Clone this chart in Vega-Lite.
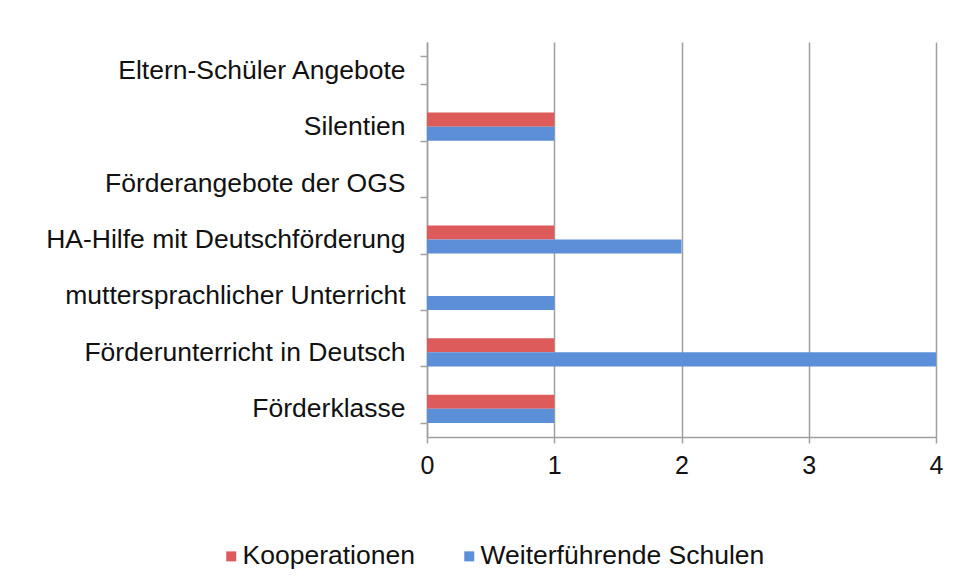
{
  "$schema": "https://vega.github.io/schema/vega-lite/v6.json",
  "width": 509,
  "height": 395,
  "autosize": {"type": "none"},
  "padding": {"left": 427, "top": 42, "right": 24, "bottom": 143},
  "background": "white",
  "config": {
    "font": "Liberation Sans",
    "view": {"stroke": null}
  },
  "data": {
    "values": [
      {"cat": "Eltern-Schüler Angebote", "series": "Kooperationen", "v": 0},
      {"cat": "Eltern-Schüler Angebote", "series": "Weiterführende Schulen", "v": 0},
      {"cat": "Silentien", "series": "Kooperationen", "v": 1},
      {"cat": "Silentien", "series": "Weiterführende Schulen", "v": 1},
      {"cat": "Förderangebote der OGS", "series": "Kooperationen", "v": 0},
      {"cat": "Förderangebote der OGS", "series": "Weiterführende Schulen", "v": 0},
      {"cat": "HA-Hilfe mit Deutschförderung", "series": "Kooperationen", "v": 1},
      {"cat": "HA-Hilfe mit Deutschförderung", "series": "Weiterführende Schulen", "v": 2},
      {"cat": "muttersprachlicher Unterricht", "series": "Kooperationen", "v": 0},
      {"cat": "muttersprachlicher Unterricht", "series": "Weiterführende Schulen", "v": 1},
      {"cat": "Förderunterricht in Deutsch", "series": "Kooperationen", "v": 1},
      {"cat": "Förderunterricht in Deutsch", "series": "Weiterführende Schulen", "v": 4},
      {"cat": "Förderklasse", "series": "Kooperationen", "v": 1},
      {"cat": "Förderklasse", "series": "Weiterführende Schulen", "v": 1}
    ]
  },
  "mark": {"type": "bar"},
  "encoding": {
    "y": {
      "field": "cat",
      "type": "nominal",
      "sort": null,
      "scale": {"paddingInner": 0.5, "paddingOuter": 0.25},
      "axis": {
        "title": null,
        "labelFontSize": 26.5,
        "labelColor": "#111111",
        "labelPadding": 15,
        "labelLimit": 420,
        "tickBand": "extent",
        "tickSize": 7,
        "tickColor": "#a0a0a0",
        "tickWidth": 1.5,
        "domainColor": "#a0a0a0",
        "domainWidth": 1.5,
        "grid": false
      }
    },
    "yOffset": {
      "field": "series",
      "type": "nominal",
      "sort": ["Kooperationen", "Weiterführende Schulen"]
    },
    "x": {
      "field": "v",
      "type": "quantitative",
      "scale": {"domain": [0, 4], "nice": false},
      "axis": {
        "title": null,
        "values": [0, 1, 2, 3, 4],
        "format": "d",
        "labelFontSize": 25,
        "labelFlush": false,
        "labelColor": "#111111",
        "labelPadding": 10,
        "tickSize": 6,
        "tickColor": "#a0a0a0",
        "tickWidth": 1.5,
        "domainColor": "#a0a0a0",
        "domainWidth": 1.5,
        "gridColor": "#a0a0a0",
        "gridWidth": 1.5
      }
    },
    "color": {
      "field": "series",
      "type": "nominal",
      "scale": {"domain": ["Kooperationen", "Weiterführende Schulen"], "range": ["#dd5b5b", "#5b8fd8"]},
      "legend": {
        "title": null,
        "orient": "none",
        "direction": "horizontal",
        "legendX": -209,
        "legendY": 501,
        "symbolType": "square",
        "symbolSize": 100,
        "symbolStrokeWidth": 0,
        "labelFontSize": 26.5,
        "labelLimit": 500,
        "labelColor": "#111111",
        "labelOffset": -2,
        "columnPadding": 41
      }
    }
  }
}
